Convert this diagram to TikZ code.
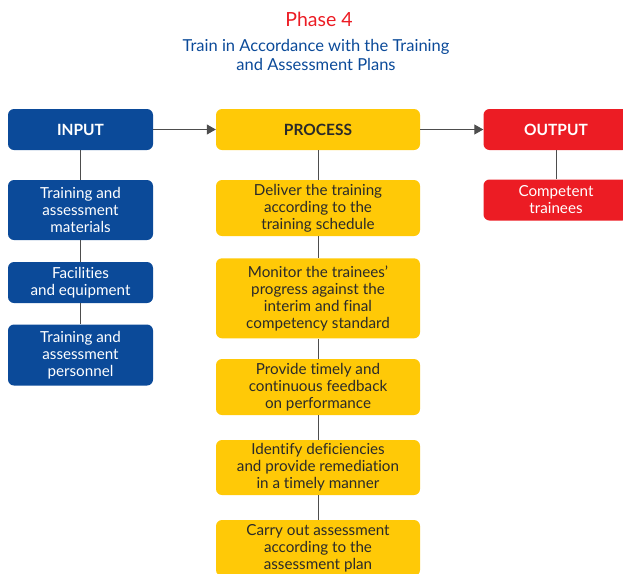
\documentclass[tikz,border=0pt]{standalone}
\usepackage{fontspec}
\setmainfont{Lato}[Ligatures=NoCommon]
\usetikzlibrary{arrows.meta}
\definecolor{phaseblue}{HTML}{0B4A99}
\definecolor{phaseyellow}{HTML}{FFC907}
\definecolor{phasered}{HTML}{EC1C24}
\definecolor{phasetext}{HTML}{2A2A2A}
\definecolor{phaseline}{HTML}{4D4D4D}
\tikzset{
	box/.style={rectangle, rounded corners=6pt, align=center, inner sep=0pt, font=\fontsize{15.2}{16.9}\selectfont},
	inbox/.style={box, fill=phaseblue, text=white, minimum width=145pt},
	probox/.style={box, fill=phaseyellow, text=phasetext, minimum width=204pt},
	outbox/.style={box, fill=phasered, text=white, minimum width=145pt},
	head/.style={minimum height=41pt, font=\fontsize{15.5}{17}\selectfont\bfseries},
	link/.style={draw=phaseline, line width=1pt},
	flow/.style={link, -{Triangle[length=9pt,width=10pt]}},
}

\begin{document}
\begin{tikzpicture}[x=1pt, y=-1pt]
		%%%%% START %%%%%
		\useasboundingbox (0, 0) rectangle (623, 573);
		\clip (0, 0) rectangle (623, 573);
		
		\node[text=phasered, font=\fontsize{19.5}{22}\selectfont] (phase) at (319, 19) {Phase 4};
		\node[text=phaseblue, align=center, font=\fontsize{16.5}{19}\selectfont] (title) at (316, 55) {Train in Accordance with the Training\\and Assessment Plans};
		
		\node[inbox, head] (input) at (80.5, 129.5) {INPUT};
		\node[probox, head] (process) at (318, 129.5) {PROCESS};
		\node[outbox, head] (output) at (556, 129.5) {OUTPUT};
		
		\draw[flow] (input) -- (process);
		\draw[flow] (process) -- (output);
		
		\node[inbox, minimum height=60pt] (in1) at (80.5, 210) {Training and\\assessment\\materials};
		\node[inbox, minimum height=41pt] (in2) at (80.5, 282.5) {Facilities\\and equipment};
		\node[inbox, minimum height=61pt] (in3) at (80.5, 355) {Training and\\assessment\\personnel};
		
		\draw[link] (input) -- (in1);
		\draw[link] (in1) -- (in2);
		\draw[link] (in2) -- (in3);
		
		\node[probox, minimum height=56pt] (pro1) at (318, 208) {Deliver the training\\according to the\\training schedule};
		\node[probox, minimum height=80pt] (pro2) at (318, 298.3) {Monitor the trainees'\\progress against the\\interim and final\\competency standard};
		\node[probox, minimum height=56pt] (pro3) at (318, 387) {Provide timely and\\continuous feedback\\on performance};
		\node[probox, minimum height=55pt] (pro4) at (318, 467.5) {Identify deficiencies\\and provide remediation\\in a timely manner};
		\node[probox, minimum height=56pt] (pro5) at (318, 548) {Carry out assessment\\according to the\\assessment plan};
		
		\draw[link] (process) -- (pro1);
		\draw[link] (pro1) -- (pro2);
		\draw[link] (pro2) -- (pro3);
		\draw[link] (pro3) -- (pro4);
		\draw[link] (pro4) -- (pro5);
		
		\node[outbox, minimum height=41pt] (out1) at (556, 200) {Competent\\trainees};
		\draw[link] (output) -- (out1);
		
		%%%%% END %%%%%
	\end{tikzpicture}
\end{document}
